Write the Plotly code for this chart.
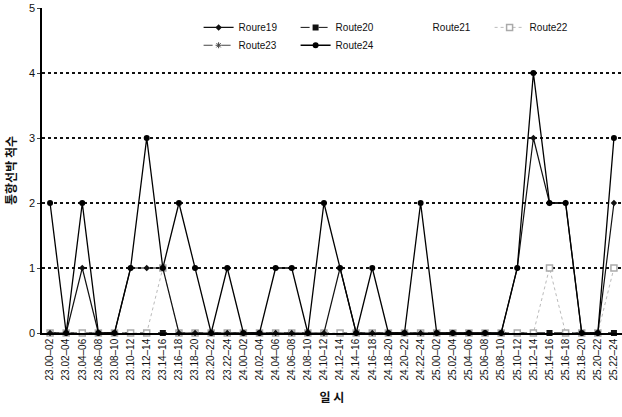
import plotly.graph_objects as go

categories = ["23.00–02","23.02–04","23.04–06","23.06–08","23.08–10","23.10–12","23.12–14","23.14–16",
              "23.16–18","23.18–20","23.20–22","23.22–24",
              "24.00–02","24.02–04","24.04–06","24.06–08","24.08–10","24.10–12","24.12–14","24.14–16",
              "24.16–18","24.18–20","24.20–22","24.22–24",
              "25.00–02","25.02–04","25.04–06","25.06–08","25.08–10","25.10–12","25.12–14","25.14–16",
              "25.16–18","25.18–20","25.20–22","25.22–24"]

route19 = [0,0,1,0,0,1,1,1,0,0,0,0, 0,0,0,0,0,0,1,0,0,0,0,0, 0,0,0,0,0,1,3,2,2,0,0,2]
route20 = [0]*36
route21 = [0]*36
route22 = [0,0,0,0,0,0,0,1,0,0,0,0, 0,0,0,0,0,0,0,0,0,0,0,0, 0,0,0,0,0,0,0,1,0,0,0,1]
route23 = [0]*36
route24 = [2,0,2,0,0,1,3,1,2,1,0,1, 0,0,1,1,0,2,1,0,1,0,0,2, 0,0,0,0,0,1,4,2,2,0,0,3]

FONT = "Liberation Sans, Arial, sans-serif"
KFONT = "Noto Sans CJK KR, sans-serif"

fig = go.Figure()

fig.add_trace(go.Scatter(x=categories, y=route21, name="Route21", mode="lines", legendrank=3,
                         line=dict(color="rgba(255,255,255,0)", width=1), cliponaxis=False, legend="legend"))
fig.add_trace(go.Scatter(x=categories, y=route23, name="Route23", mode="lines+markers", legendrank=5,
                         line=dict(color="#444", width=1, dash="dash"),
                         marker=dict(symbol="asterisk-open", size=5, color="#444"), cliponaxis=False, legend="legend2"))
fig.add_trace(go.Scatter(x=categories, y=route20, name="Route20", mode="lines+markers", legendrank=2,
                         line=dict(color="#111", width=1, dash="dash"),
                         marker=dict(symbol="square", size=6, color="#111"), cliponaxis=False, legend="legend"))
fig.add_trace(go.Scatter(x=categories, y=route22, name="Route22", mode="lines+markers", legendrank=4,
                         line=dict(color="#bbbbbb", width=1, dash="dot"),
                         marker=dict(symbol="square", size=6, color="white", line=dict(width=1.5, color="#aaaaaa")),
                         cliponaxis=False, legend="legend"))
fig.add_trace(go.Scatter(x=categories, y=route19, name="Roure19", mode="lines+markers", legendrank=1,
                         line=dict(color="#111", width=1.2),
                         marker=dict(symbol="diamond", size=5, color="#111"), cliponaxis=False, legend="legend"))
fig.add_trace(go.Scatter(x=categories, y=route24, name="Route24", mode="lines+markers", legendrank=6,
                         line=dict(color="#000", width=1.3),
                         marker=dict(symbol="circle", size=6, color="#000"), cliponaxis=False, legend="legend2"))

legend_common = dict(orientation="h", xanchor="left", yanchor="top", bgcolor="rgba(0,0,0,0)",
                     font=dict(family=FONT, size=10, color="#111"), entrywidth=52,
                     itemwidth=30, tracegroupgap=0, traceorder="normal")

fig.update_layout(
    width=622, height=417,
    margin=dict(l=42, r=0, t=8, b=84),
    paper_bgcolor="white", plot_bgcolor="white",
    font=dict(family=FONT, color="#111"),
    showlegend=True,
    legend=dict(x=0.27, y=0.985, **legend_common),
    legend2=dict(x=0.27, y=0.93, **legend_common),
    xaxis=dict(type="category", categoryorder="array", categoryarray=categories,
               range=[-0.5, 35.5], tickangle=-90, tickfont=dict(family=FONT, size=10, color="#111"),
               showgrid=False, showline=True, linecolor="#000", linewidth=1.5, ticks="",
               title=dict(text="<b>일 시</b>", font=dict(family=KFONT, size=12, color="#111"), standoff=14)),
    yaxis=dict(range=[0, 5], dtick=1, tickfont=dict(family=FONT, size=11, color="#111"),
               showgrid=True, gridcolor="#111", gridwidth=2, griddash="dot",
               showline=True, linecolor="#000", linewidth=1.5, ticks="outside", ticklen=3,
               zeroline=False,
               title=dict(text="<b>통항선박 척수</b>", font=dict(family=KFONT, size=12, color="#111"), standoff=10)),
)

fig.write_html("out.html")
